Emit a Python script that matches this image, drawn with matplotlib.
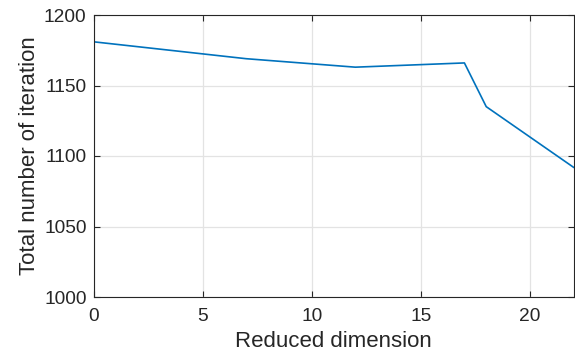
import matplotlib.pyplot as plt

# reduced dimension vs total iterations
dims = [0, 7, 12, 17, 18, 22]
iters = [1181, 1169, 1163, 1166, 1135, 1092]

plt.rcParams['font.family'] = ['Liberation Sans', 'DejaVu Sans']

fig = plt.figure(figsize=(5.75, 3.56), dpi=100)
ax = fig.add_axes([93.5 / 575, 59 / 356, 480 / 575, 282 / 356])

ax.plot(dims, iters, color='#0072BD', lw=1.2)

ax.set_xlim(0, 22)
ax.set_ylim(1000, 1200)
ax.set_xticks([0, 5, 10, 15, 20])
ax.set_yticks([1000, 1050, 1100, 1150, 1200])
ax.grid(True, color='#e3e3e3', lw=0.9)
ax.set_axisbelow(True)

for s in ax.spines.values():
    s.set_color('#262626')
    s.set_linewidth(0.8)
ax.tick_params(direction='in', top=True, right=True, length=4, width=0.8,
               colors='#262626', labelsize=13.8, labelcolor='#262626')
ax.tick_params(axis='x', pad=8)
ax.tick_params(axis='y', pad=5)

ax.set_xlabel('Reduced dimension', fontsize=16, color='#262626', labelpad=4)
ax.set_ylabel('Total number of iteration', fontsize=16, color='#262626', labelpad=3)

fig.savefig('out.png', dpi=100)
